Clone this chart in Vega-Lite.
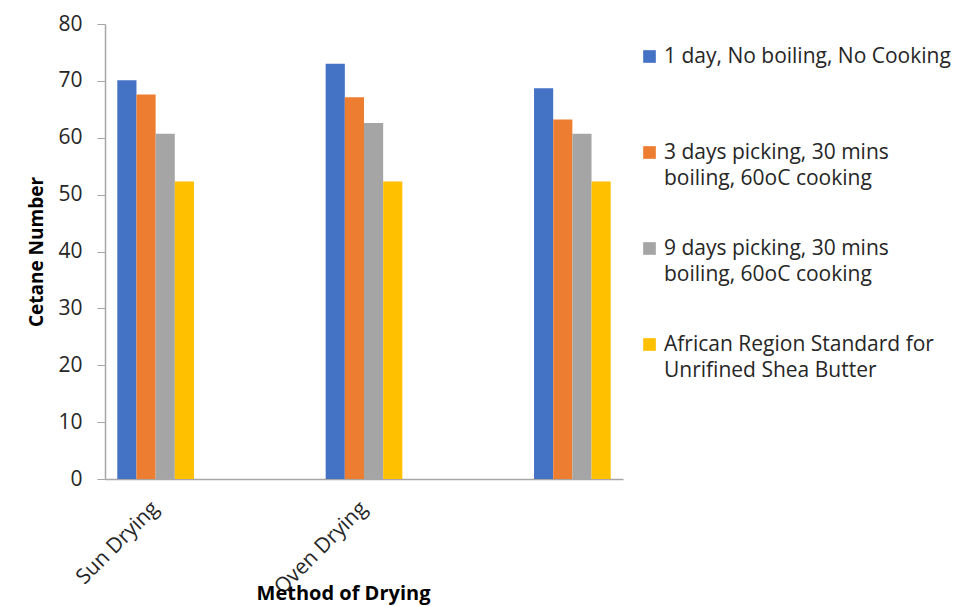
{
  "$schema": "https://vega.github.io/schema/vega-lite/v6.json",
  "autosize": "none",
  "width": 518,
  "height": 455,
  "padding": {"left": 105, "top": 24, "right": 347, "bottom": 127},
  "background": "white",
  "config": {
    "view": {"stroke": null},
    "font": "Open Sans"
  },
  "data": {
    "values": [
      {"method": "Sun Drying", "treatment": "1 day, No boiling, No Cooking", "cetane": 70.1},
      {"method": "Sun Drying", "treatment": "3 days picking, 30 mins|boiling, 60oC cooking", "cetane": 67.6},
      {"method": "Sun Drying", "treatment": "9 days picking, 30 mins|boiling, 60oC cooking", "cetane": 60.7},
      {"method": "Sun Drying", "treatment": "African Region Standard for|Unrifined Shea Butter", "cetane": 52.3},
      {"method": "Oven Drying", "treatment": "1 day, No boiling, No Cooking", "cetane": 73.0},
      {"method": "Oven Drying", "treatment": "3 days picking, 30 mins|boiling, 60oC cooking", "cetane": 67.1},
      {"method": "Oven Drying", "treatment": "9 days picking, 30 mins|boiling, 60oC cooking", "cetane": 62.6},
      {"method": "Oven Drying", "treatment": "African Region Standard for|Unrifined Shea Butter", "cetane": 52.3},
      {"method": "", "treatment": "1 day, No boiling, No Cooking", "cetane": 68.7},
      {"method": "", "treatment": "3 days picking, 30 mins|boiling, 60oC cooking", "cetane": 63.2},
      {"method": "", "treatment": "9 days picking, 30 mins|boiling, 60oC cooking", "cetane": 60.7},
      {"method": "", "treatment": "African Region Standard for|Unrifined Shea Butter", "cetane": 52.3}
    ]
  },
  "mark": {"type": "bar"},
  "encoding": {
    "x": {
      "field": "method",
      "type": "nominal",
      "sort": ["Sun Drying", "Oven Drying", ""],
      "scale": {"paddingInner": 0.632, "paddingOuter": 0.059},
      "axis": {
        "title": "Method of Drying",
        "titleFont": "Open Sans",
        "titleFontSize": 20,
        "titleFontWeight": "bold",
        "titleColor": "#000000",
        "titleX": 238,
        "titleY": 120,
        "titleBaseline": "alphabetic",
        "labelAngle": -45,
        "labelAlign": "right",
        "labelBaseline": "middle",
        "labelPadding": 26,
        "labelFontSize": 21,
        "labelColor": "#262626",
        "ticks": false,
        "domainColor": "#a6a6a6",
        "domainWidth": 1.5,
        "grid": false
      }
    },
    "xOffset": {
      "field": "treatment",
      "type": "nominal",
      "sort": null
    },
    "y": {
      "field": "cetane",
      "type": "quantitative",
      "scale": {"domain": [0, 80], "nice": false},
      "axis": {
        "title": "Cetane Number",
        "titleFont": "Open Sans",
        "titleFontSize": 19,
        "titleFontWeight": "bold",
        "titleColor": "#000000",
        "titlePadding": 11,
        "values": [0, 10, 20, 30, 40, 50, 60, 70, 80],
        "labelFontSize": 21,
        "labelColor": "#262626",
        "labelPadding": 15,
        "tickSize": 8,
        "tickColor": "#a6a6a6",
        "domainColor": "#a6a6a6",
        "domainWidth": 1.5,
        "grid": false
      }
    },
    "color": {
      "field": "treatment",
      "type": "nominal",
      "sort": null,
      "scale": {"range": ["#4472C4", "#ED7D31", "#A5A5A5", "#FFC000"]},
      "legend": {
        "title": null,
        "orient": "none",
        "legendX": 534,
        "legendY": 22,
        "padding": 0,
        "symbolType": "square",
        "symbolSize": 160,
        "symbolStrokeWidth": 0,
        "labelOffset": 4,
        "labelFontSize": 21,
        "labelColor": "#262626",
        "labelLimit": 400,
        "labelBaseline": "middle",
        "rowPadding": 48,
        "labelExpr": "split(datum.label + (indexof(datum.label, '|') < 0 ? '|' : ''), '|')",
        "encode": {
          "labels": {"update": {"lineHeight": {"value": 26}}}
        }
      }
    }
  }
}
